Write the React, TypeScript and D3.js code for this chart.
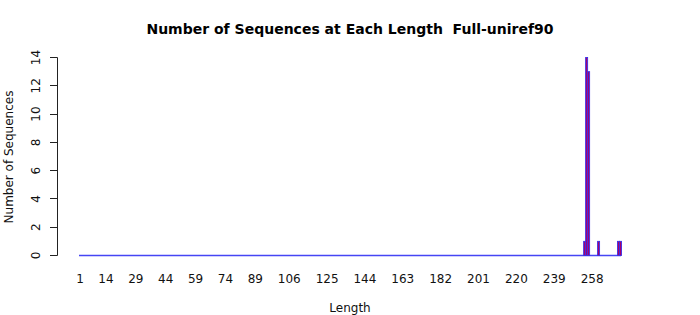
import React from "react";
import * as d3 from "d3";

const lengths: number[] = d3.range(1, 273);
const countLengths = [254, 255, 256, 261, 271, 272];
const countValues = [1, 14, 13, 1, 1, 1];
const xTickLabels = [1, 14, 29, 44, 59, 74, 89, 106, 125, 144, 163, 182, 201, 220, 239, 258];
const yTicks = [0, 2, 4, 6, 8, 10, 12, 14];
const title = "Number of Sequences at Each Length  Full-uniref90";

export default function App() {
  const W = 700, H = 315;
  const countMap = new Map<number, number>();
  countLengths.forEach((l, i) => countMap.set(l, countValues[i]));
  const data = lengths.map((l) => ({ len: l, n: countMap.get(l) ?? 0 }));

  const x = d3.scaleBand<number>().domain(lengths).range([79, 621]).paddingInner(0).paddingOuter(0);
  const y = d3.scaleLinear().domain([0, 14]).range([255.5, 57.5]);
  const font = "DejaVu Sans, sans-serif";

  return (
    <svg width={W} height={H} style={{ position: "absolute", left: 0, top: 0, background: "#fff" }}>
      <text x={350} y={34} textAnchor="middle" fontFamily={font} fontWeight="bold" fontSize={14} style={{ whiteSpace: "pre" }}>
        {title}
      </text>
      {/* baseline from zero-height bar borders */}
      <line x1={x.range()[0]} x2={x.range()[1]} y1={y(0)} y2={y(0)} stroke="#4646f4" strokeWidth={1.3} />
      {data.filter((d) => d.n > 0).map((d) => (
        <rect
          key={d.len}
          x={x(d.len)! + 0.5}
          y={y(d.n)}
          width={x.bandwidth()}
          height={y(0) - y(d.n)}
          fill="#a8006a"
          stroke="#3a30e8"
          strokeWidth={0.9}
        />
      ))}
      {/* y axis */}
      <line x1={57.5} x2={57.5} y1={y(14)} y2={y(0)} stroke="#222" />
      {yTicks.map((t) => (
        <g key={t}>
          <line x1={50} x2={57.5} y1={Math.round(y(t) - 0.5) + 0.5} y2={Math.round(y(t) - 0.5) + 0.5} stroke="#222" />
          <text
            transform={`translate(${40},${y(t)}) rotate(-90)`}
            textAnchor="middle"
            fontFamily={font}
            fontSize={12}
            fill="#111"
          >
            {t}
          </text>
        </g>
      ))}
      {xTickLabels.map((t) => (
        <text
          key={t}
          x={x(t)! + x.bandwidth() / 2}
          y={283}
          textAnchor="middle"
          fontFamily={font}
          fontSize={12}
          fill="#111"
        >
          {t}
        </text>
      ))}
      <text x={350} y={312} textAnchor="middle" fontFamily={font} fontSize={12} fill="#111">
        Length
      </text>
      <text
        transform={`translate(${13},${157}) rotate(-90)`}
        textAnchor="middle"
        fontFamily={font}
        fontSize={12}
        fill="#111"
      >
        Number of Sequences
      </text>
    </svg>
  );
}
